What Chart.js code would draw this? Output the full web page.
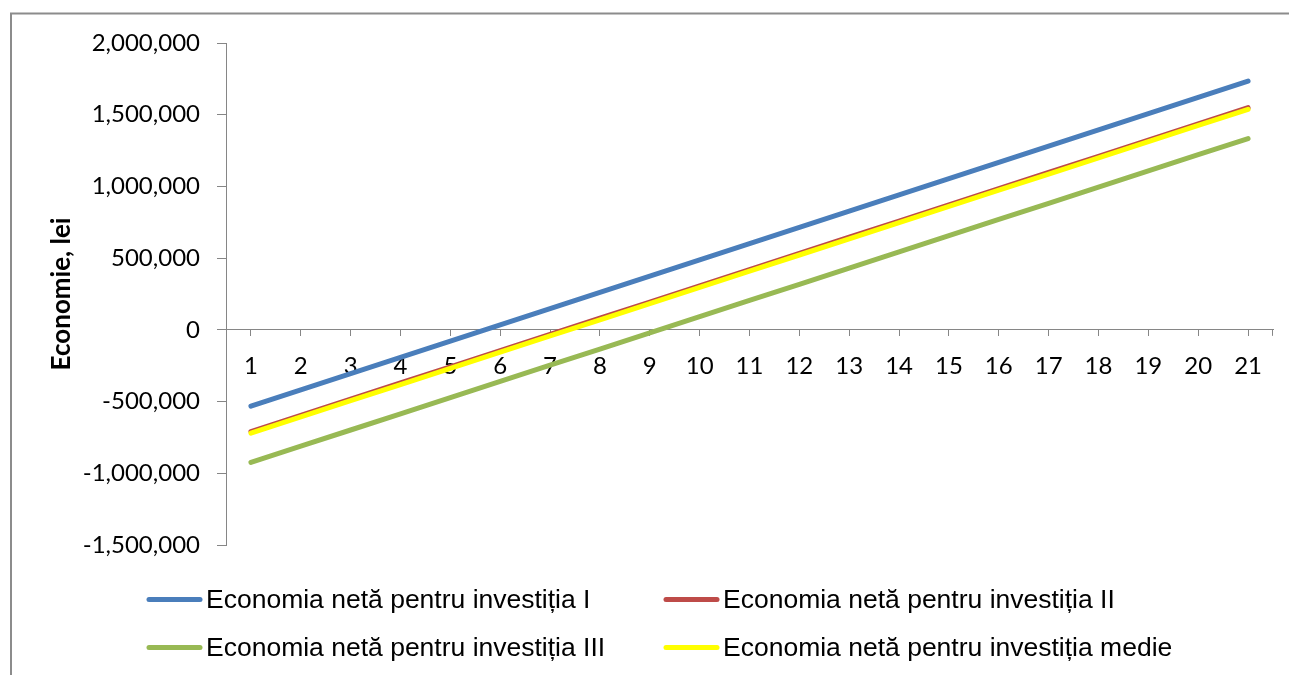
<!DOCTYPE html>
<html>
<head>
<meta charset="utf-8">
<script src="https://cdn.jsdelivr.net/npm/chart.js@4/dist/chart.umd.min.js"></script>
<style>
  html, body { margin: 0; padding: 0; background: #fff; }
  #wrap { width: 1289px; height: 675px; }
</style>
</head>
<body>
<div id="wrap"><canvas id="c" width="1289" height="675"></canvas></div>
<script>
// Years of operation
const years = ['1','2','3','4','5','6','7','8','9','10','11','12','13','14','15','16','17','18','19','20','21'];

// Cumulative net savings (lei) per investment variant
const economiaI = [-532000, -418650, -305300, -191950, -78600, 34750, 148100, 261450, 374800, 488150,
  601500, 714850, 828200, 941550, 1054900, 1168250, 1281600, 1394950, 1508300, 1621650, 1735000];
const economiaII = [-709000, -596100, -483200, -370300, -257400, -144500, -31600, 81300, 194200, 307100,
  420000, 532900, 645800, 758700, 871600, 984500, 1097400, 1210300, 1323200, 1436100, 1549000];
const economiaIII = [-924000, -811100, -698200, -585300, -472400, -359500, -246600, -133700, -20800, 92100,
  205000, 317900, 430800, 543700, 656600, 769500, 882400, 995300, 1108200, 1221100, 1334000];
const economiaMedie = [-720000, -607100, -494200, -381300, -268400, -155500, -42600, 70300, 183200, 296100,
  409000, 521900, 634800, 747700, 860600, 973500, 1086400, 1199300, 1312200, 1425100, 1538000];

const seriesNames = [
  'Economia netă pentru investiția I',
  'Economia netă pentru investiția II',
  'Economia netă pentru investiția III',
  'Economia netă pentru investiția medie'
];

// Value axis range
const yMin = -1500000;
const yMax = 2000000;
const yStep = 500000;

const AXIS_GREY = '#868686';
const colors = ['#4a7ebb', '#be4b48', '#98b954', '#ffff00'];

// Outer frame and white background
const framePlugin = {
  id: 'frame',
  beforeDraw(chart) {
    const ctx = chart.ctx;
    ctx.save();
    ctx.fillStyle = '#ffffff';
    ctx.fillRect(0, 0, chart.width, chart.height);
    ctx.strokeStyle = '#8c8c8c';
    ctx.lineWidth = 2;
    ctx.beginPath();
    ctx.moveTo(11, chart.height);
    ctx.lineTo(11, 13.5);
    ctx.lineTo(chart.width, 13.5);
    ctx.stroke();
    ctx.restore();
  }
};

// Closing tick at the right end of the category axis + two-column legend
const extrasPlugin = {
  id: 'extras',
  afterDraw(chart) {
    const ctx = chart.ctx;
    const x = chart.scales.x;
    const y0 = chart.scales.y.getPixelForValue(0);
    ctx.save();
    ctx.strokeStyle = AXIS_GREY;
    ctx.lineWidth = 1;
    ctx.beginPath();
    ctx.moveTo(Math.round(x.right) - 0.5, y0);
    ctx.lineTo(Math.round(x.right) - 0.5, y0 + 6);
    ctx.stroke();

    // legend: items 0,1 on the first row, 2,3 on the second
    const colX = [147, 664];
    const rowY = [599.5, 647.5];
    ctx.font = '26.5px "Liberation Sans", Arial, sans-serif';
    ctx.textBaseline = 'middle';
    ctx.textAlign = 'left';
    chart.data.datasets.forEach((ds, i) => {
      const cx = colX[i % 2];
      const cy = rowY[Math.floor(i / 2)];
      ctx.strokeStyle = ds.borderColor;
      ctx.lineWidth = 5;
      ctx.lineCap = 'round';
      ctx.beginPath();
      ctx.moveTo(cx + 2, cy);
      ctx.lineTo(cx + 53, cy);
      ctx.stroke();
      ctx.fillStyle = '#000000';
      ctx.fillText(ds.label, cx + 59, cy + 1);
    });
    ctx.restore();
  }
};

const PAD_LEFT = 30;

function lineSet(i, values, order) {
  return {
    label: seriesNames[i],
    data: values,
    borderColor: colors[i],
    backgroundColor: colors[i],
    borderWidth: 5,
    borderCapStyle: 'round',
    borderJoinStyle: 'round',
    pointRadius: 0,
    pointHoverRadius: 0,
    tension: 0,
    fill: false,
    order: order
  };
}

new Chart(document.getElementById('c'), {
  type: 'line',
  data: {
    labels: years,
    datasets: [
      lineSet(0, economiaI, 4),
      lineSet(1, economiaII, 3),
      lineSet(2, economiaIII, 2),
      lineSet(3, economiaMedie, 1)
    ]
  },
  plugins: [framePlugin, extrasPlugin],
  options: {
    responsive: false,
    animation: false,
    devicePixelRatio: 1,
    layout: { padding: { left: PAD_LEFT, right: 16, top: 43, bottom: 130 } },
    plugins: {
      legend: { display: false },
      tooltip: { enabled: false }
    },
    scales: {
      x: {
        type: 'category',
        position: { y: 0 },
        offset: true,
        grid: {
          drawOnChartArea: false,
          drawTicks: true,
          tickLength: 6,
          color: AXIS_GREY,
          offset: false
        },
        border: { display: true, color: AXIS_GREY, width: 1 },
        ticks: {
          color: '#000000',
          padding: 16,
          maxRotation: 0,
          autoSkip: false,
          font: { family: 'Lato', size: 24 }
        }
      },
      y: {
        min: yMin,
        max: yMax,
        afterFit(scale) { scale.width = 226 - PAD_LEFT; },
        grid: {
          drawOnChartArea: false,
          drawTicks: true,
          tickLength: 9,
          color: AXIS_GREY
        },
        border: { display: true, color: AXIS_GREY, width: 1 },
        ticks: {
          stepSize: yStep,
          color: '#000000',
          padding: 17,
          font: { family: 'Lato', size: 24 },
          callback: (v) => Number(v).toLocaleString('en-US')
        },
        title: {
          display: true,
          text: 'Economie, lei',
          color: '#000000',
          padding: { top: 16, bottom: 0 },
          font: { family: 'Lato', size: 26, weight: 'bold' }
        }
      }
    }
  }
});
</script>
</body>
</html>
